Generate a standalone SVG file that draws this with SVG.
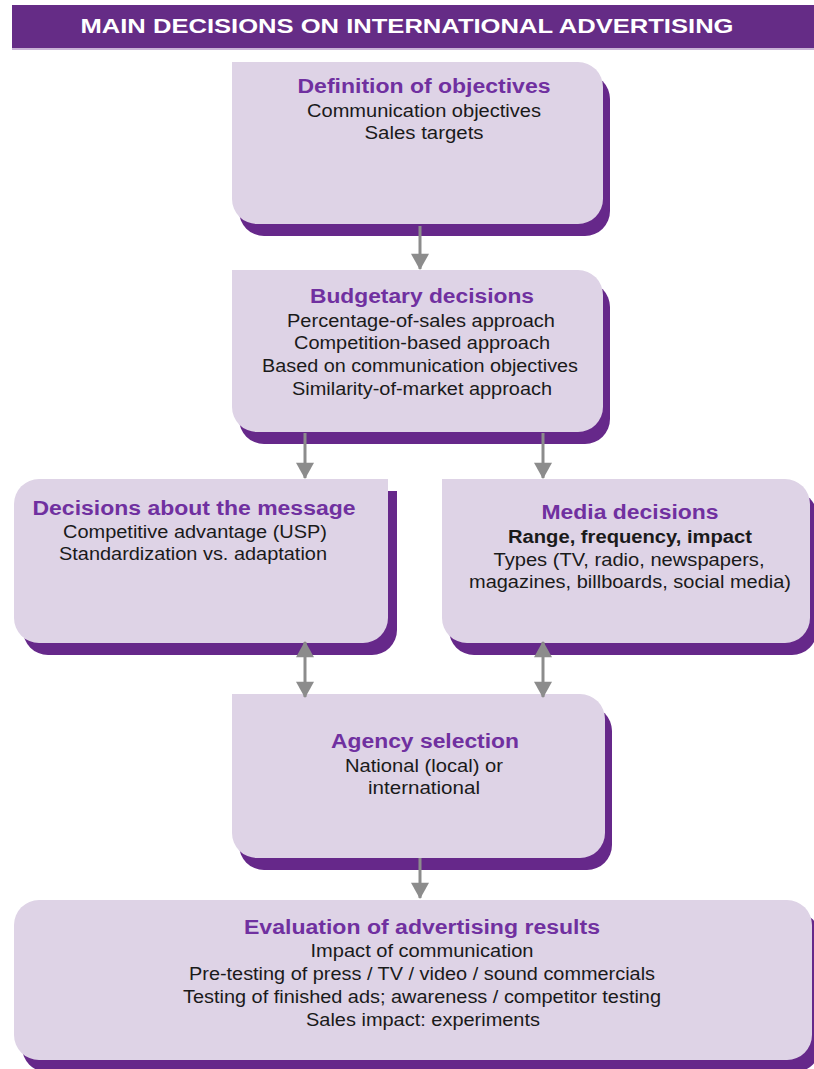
<svg xmlns="http://www.w3.org/2000/svg" width="814" height="1069" viewBox="0 0 814 1069">
  <style>
    .box { fill: #DED3E6; }
    .shadow { fill: #66288A; }
    .head { font-family: "Liberation Sans", Arial, sans-serif; font-weight: bold; font-size: 19.5px; fill: #7030A0; text-anchor: middle; }
    .txt { font-family: "Liberation Sans", Arial, sans-serif; font-size: 17.5px; fill: #1A1A1A; text-anchor: middle; }
    .bold { font-weight: bold; }
    .link { stroke: #8C8C8C; stroke-width: 3; fill: none; }
  </style>
  <defs>
    <marker id="tip" markerUnits="userSpaceOnUse" markerWidth="20" markerHeight="18" refX="16" refY="9.5" orient="auto-start-reverse" viewBox="0 0 17 19">
      <path d="M0,0 L17,9.5 L0,19 Z" fill="#8C8C8C"/>
    </marker>
  </defs>
  <rect width="814" height="1069" fill="#FFFFFF"/>

  <!-- Title bar -->
  <g id="title">
    <rect x="12" y="5" width="802" height="43" fill="#652C86"/>
    <rect x="12" y="48" width="802" height="2" fill="#C9B3D6"/>
    <text x="407" y="33" font-family="'Liberation Sans', Arial, sans-serif" font-weight="bold" font-size="21" fill="#FFFFFF" text-anchor="middle" textLength="653" lengthAdjust="spacingAndGlyphs">MAIN DECISIONS ON INTERNATIONAL ADVERTISING</text>
  </g>

  <!-- Definition of objectives -->
  <g id="objectives">
    <path class="shadow" transform="translate(7,12)" d="M232,62 H578 A25,25 0 0 1 603,87 V199 A25,25 0 0 1 578,224 H257 A25,25 0 0 1 232,199 Z"/>
    <path class="box" d="M232,62 H578 A25,25 0 0 1 603,87 V199 A25,25 0 0 1 578,224 H257 A25,25 0 0 1 232,199 Z"/>
    <text class="head" x="424" y="93" textLength="253" lengthAdjust="spacingAndGlyphs">Definition of objectives</text>
    <text class="txt" x="424" y="117" textLength="234" lengthAdjust="spacingAndGlyphs">Communication objectives</text>
    <text class="txt" x="424" y="139" textLength="119" lengthAdjust="spacingAndGlyphs">Sales targets</text>
  </g>

  <!-- Budgetary decisions -->
  <g id="budget">
    <path class="shadow" transform="translate(7,12)" d="M232,270 H578 A25,25 0 0 1 603,295 V407 A25,25 0 0 1 578,432 H257 A25,25 0 0 1 232,407 Z"/>
    <path class="box" d="M232,270 H578 A25,25 0 0 1 603,295 V407 A25,25 0 0 1 578,432 H257 A25,25 0 0 1 232,407 Z"/>
    <text class="head" x="422" y="303" textLength="224" lengthAdjust="spacingAndGlyphs">Budgetary decisions</text>
    <text class="txt" x="421" y="327" textLength="268" lengthAdjust="spacingAndGlyphs">Percentage-of-sales approach</text>
    <text class="txt" x="422" y="349" textLength="256" lengthAdjust="spacingAndGlyphs">Competition-based approach</text>
    <text class="txt" x="420" y="372" textLength="316" lengthAdjust="spacingAndGlyphs">Based on communication objectives</text>
    <text class="txt" x="422" y="395" textLength="260" lengthAdjust="spacingAndGlyphs">Similarity-of-market approach</text>
  </g>

  <!-- Decisions about the message -->
  <g id="message">
    <path class="shadow" transform="translate(9,12)" d="M39,479 H388 V618 A25,25 0 0 1 363,643 H39 A25,25 0 0 1 14,618 V504 A25,25 0 0 1 39,479 Z"/>
    <path class="box" d="M39,479 H388 V618 A25,25 0 0 1 363,643 H39 A25,25 0 0 1 14,618 V504 A25,25 0 0 1 39,479 Z"/>
    <text class="head" x="194" y="515" textLength="323" lengthAdjust="spacingAndGlyphs">Decisions about the message</text>
    <text class="txt" x="195" y="538" textLength="264" lengthAdjust="spacingAndGlyphs">Competitive advantage (USP)</text>
    <text class="txt" x="193" y="560" textLength="268" lengthAdjust="spacingAndGlyphs">Standardization vs. adaptation</text>
  </g>

  <!-- Media decisions -->
  <g id="media">
    <path class="shadow" transform="translate(7,12)" d="M442,479 H785 A25,25 0 0 1 810,504 V618 A25,25 0 0 1 785,643 H467 A25,25 0 0 1 442,618 Z"/>
    <path class="box" d="M442,479 H785 A25,25 0 0 1 810,504 V618 A25,25 0 0 1 785,643 H467 A25,25 0 0 1 442,618 Z"/>
    <text class="head" x="630" y="519" textLength="177" lengthAdjust="spacingAndGlyphs">Media decisions</text>
    <text class="txt bold" x="630" y="543" textLength="244" lengthAdjust="spacingAndGlyphs">Range, frequency, impact</text>
    <text class="txt" x="629" y="566" textLength="271" lengthAdjust="spacingAndGlyphs">Types (TV, radio, newspapers,</text>
    <text class="txt" x="630" y="588" textLength="322" lengthAdjust="spacingAndGlyphs">magazines, billboards, social media)</text>
  </g>

  <!-- Agency selection -->
  <g id="agency">
    <path class="shadow" transform="translate(7,12)" d="M232,694 H580 A25,25 0 0 1 605,719 V833 A25,25 0 0 1 580,858 H257 A25,25 0 0 1 232,833 Z"/>
    <path class="box" d="M232,694 H580 A25,25 0 0 1 605,719 V833 A25,25 0 0 1 580,858 H257 A25,25 0 0 1 232,833 Z"/>
    <text class="head" x="425" y="748" textLength="188" lengthAdjust="spacingAndGlyphs">Agency selection</text>
    <text class="txt" x="424" y="772" textLength="158" lengthAdjust="spacingAndGlyphs">National (local) or</text>
    <text class="txt" x="424" y="794" textLength="112" lengthAdjust="spacingAndGlyphs">international</text>
  </g>

  <!-- Evaluation of advertising results -->
  <g id="evaluation">
    <path class="shadow" transform="translate(8,12)" d="M39,900 H787 A25,25 0 0 1 812,925 V1035 A25,25 0 0 1 787,1060 H39 A25,25 0 0 1 14,1035 V925 A25,25 0 0 1 39,900 Z"/>
    <path class="box" d="M39,900 H787 A25,25 0 0 1 812,925 V1035 A25,25 0 0 1 787,1060 H39 A25,25 0 0 1 14,1035 V925 A25,25 0 0 1 39,900 Z"/>
    <text class="head" x="422" y="934" textLength="356" lengthAdjust="spacingAndGlyphs">Evaluation of advertising results</text>
    <text class="txt" x="422" y="957" textLength="223" lengthAdjust="spacingAndGlyphs">Impact of communication</text>
    <text class="txt" x="422" y="980" textLength="466" lengthAdjust="spacingAndGlyphs">Pre-testing of press / TV / video / sound commercials</text>
    <text class="txt" x="422" y="1003" textLength="478" lengthAdjust="spacingAndGlyphs">Testing of finished ads; awareness / competitor testing</text>
    <text class="txt" x="423" y="1026" textLength="234" lengthAdjust="spacingAndGlyphs">Sales impact: experiments</text>
  </g>

  <!-- Connectors, drawn over the box shadows -->
  <g id="connectors">
    <line class="link" x1="420" y1="226" x2="420" y2="269" marker-end="url(#tip)"/>
    <line class="link" x1="305" y1="433" x2="305" y2="478" marker-end="url(#tip)"/>
    <line class="link" x1="543" y1="433" x2="543" y2="478" marker-end="url(#tip)"/>
    <line class="link" x1="305" y1="642" x2="305" y2="697" marker-start="url(#tip)" marker-end="url(#tip)"/>
    <line class="link" x1="543" y1="642" x2="543" y2="697" marker-start="url(#tip)" marker-end="url(#tip)"/>
    <line class="link" x1="420" y1="858" x2="420" y2="898" marker-end="url(#tip)"/>
  </g>
</svg>
